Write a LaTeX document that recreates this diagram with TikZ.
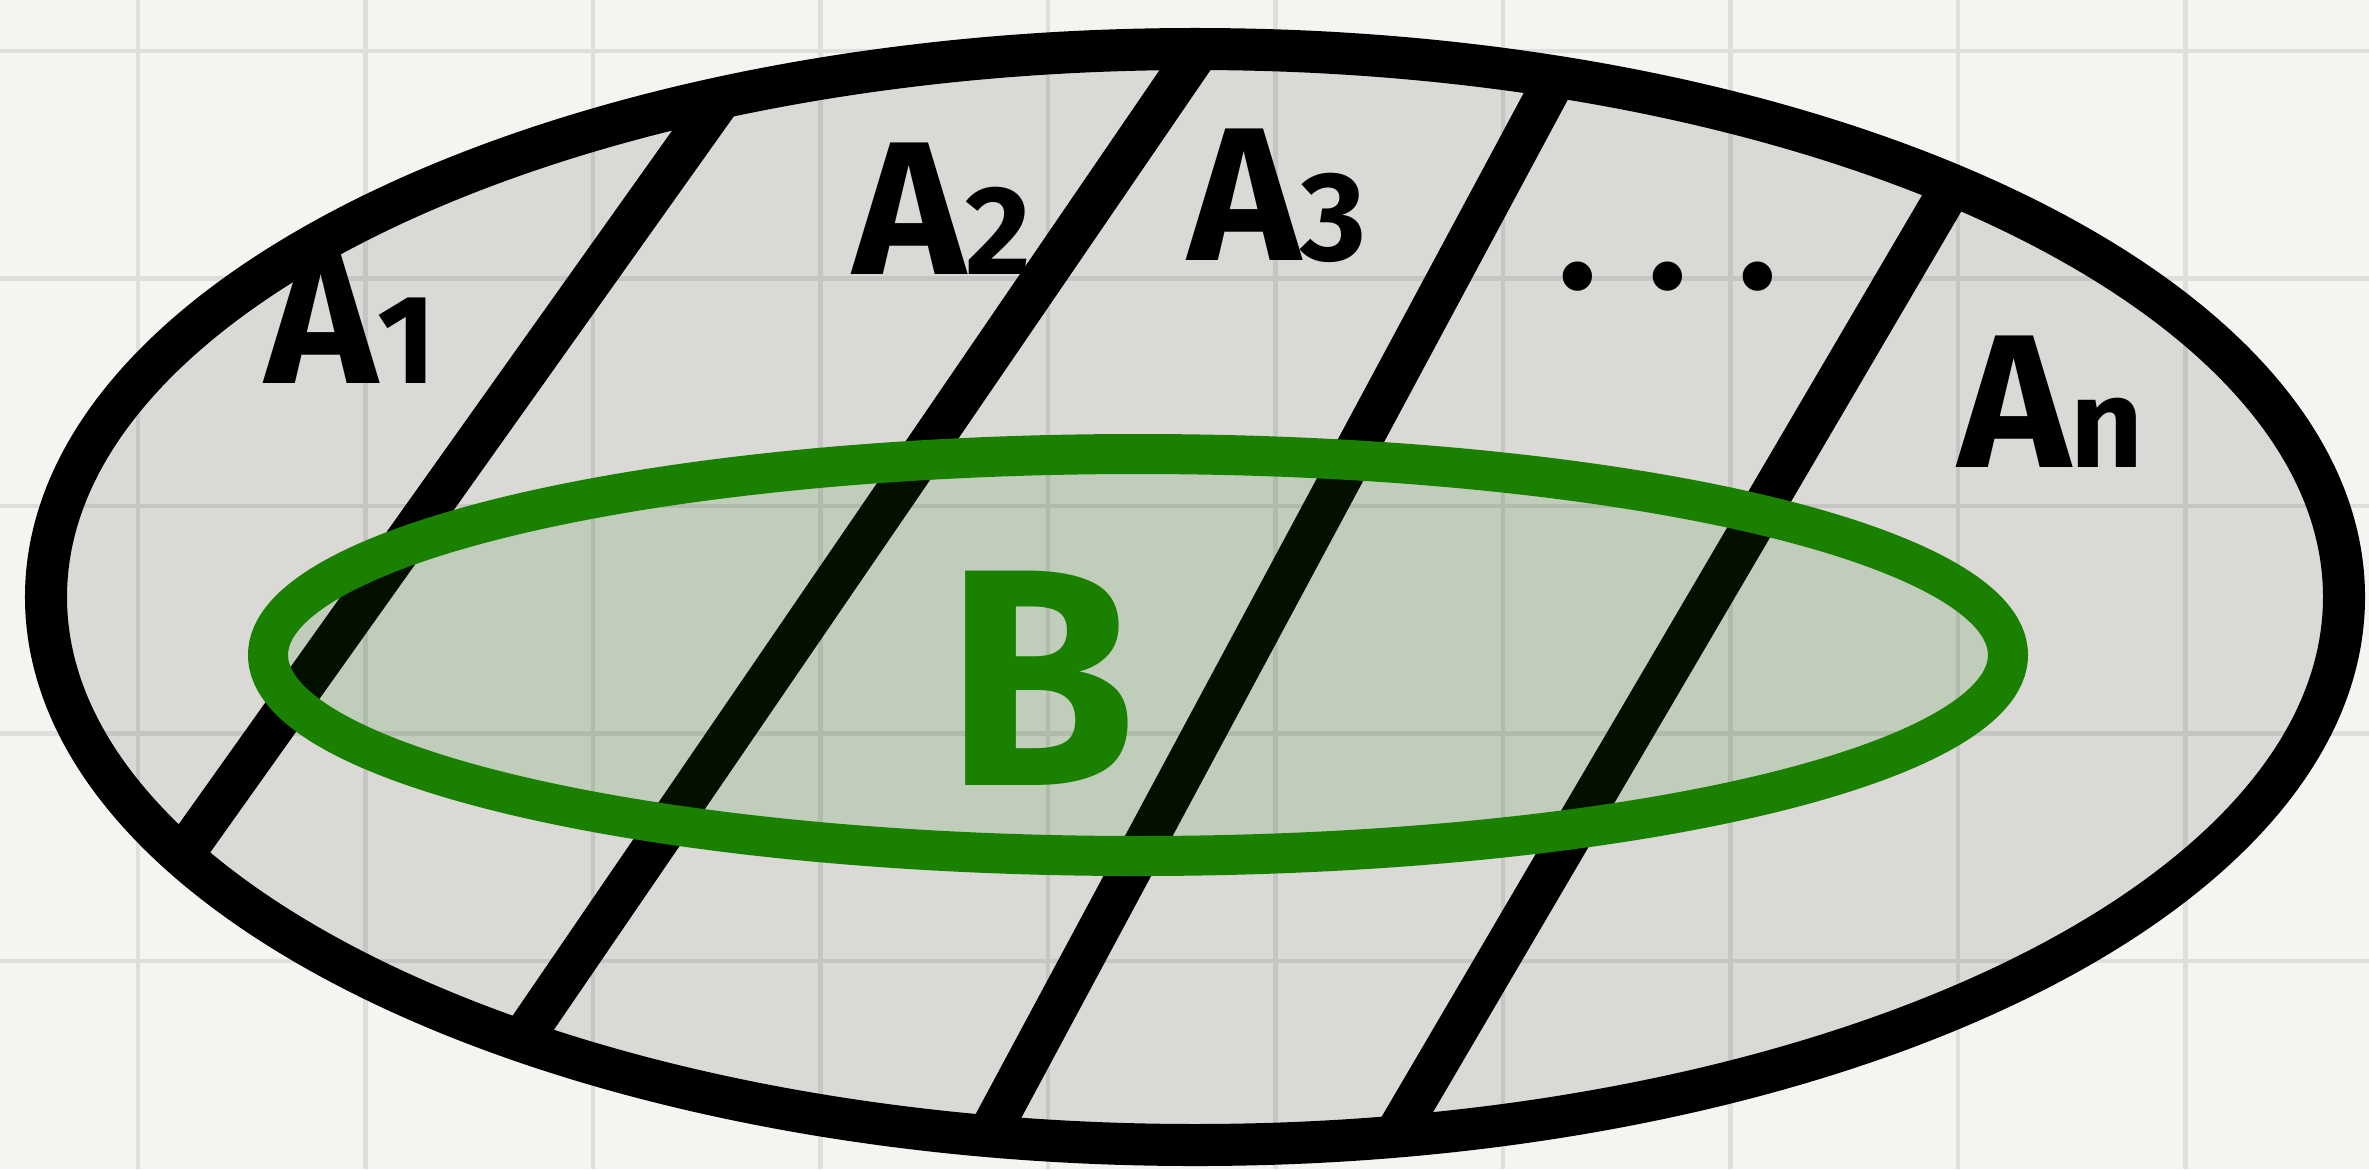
\documentclass[tikz,border=0pt]{standalone}
\usepackage{fontspec}
\setmainfont{Fira Sans}
\usetikzlibrary{positioning}
\definecolor{paperwhite}{RGB}{245,244,241}
\definecolor{gridgray}{RGB}{222,222,220}
\definecolor{pengreen}{RGB}{26,128,0}
\newcommand{\idx}[1]{{\fontsize{36}{36}\selectfont #1}}

\begin{document}
\begin{tikzpicture}[
    x=0.01cm, y=-0.01cm,
    gridline/.style={gridgray, line width=0.045cm},
    outline/.style={line width=0.42cm},
    partline/.style={line width=0.42cm, shorten <=-0.6cm, shorten >=-0.6cm},
    setlabel/.style={anchor=base west, inner sep=0pt, font=\fontsize{54}{54}\selectfont\bfseries},
    blabel/.style={anchor=base west, inner sep=0pt, text=pengreen, font=\fontsize{88}{88}\selectfont\bfseries}
  ]
  \useasboundingbox (0,0) rectangle (2369,1169);
  \fill[paperwhite] (0,0) rectangle (2369,1169);

  % squared paper
  \foreach \i in {0,...,9}
    \draw[gridline] ({138+227.5*\i},0) -- ({138+227.5*\i},1169);
  \foreach \j in {0,...,4}
    \draw[gridline] (0,{51+227.5*\j}) -- (2369,{51+227.5*\j});

  % sample space
  \fill[black, fill opacity=0.11] (1195,597) ellipse [x radius=1149, y radius=548];

  % partition A1 ... An
  \coordinate (p1a) at (704,122);  \coordinate (p1b) at (194,839);
  \coordinate (p2a) at (1183,73);  \coordinate (p2b) at (531,1026);
  \coordinate (p3a) at (1547,94);  \coordinate (p3b) at (999,1115);
  \coordinate (p4a) at (1943,201); \coordinate (p4b) at (1407,1115);
  \begin{scope}
    \clip (1195,597) ellipse [x radius=1149, y radius=548];
    \draw[partline] (p1a) -- (p1b);
    \draw[partline] (p2a) -- (p2b);
    \draw[partline] (p3a) -- (p3b);
    \draw[partline] (p4a) -- (p4b);
  \end{scope}
  \draw[outline] (1195,597) ellipse [x radius=1149, y radius=548];

  % event B
  \draw[outline, line width=0.40cm, draw=pengreen, fill=pengreen, fill opacity=0.125]
    (1138,655) ellipse [x radius=870, y radius=201];

  % labels
  \node[setlabel] (a1) at (265,383) {A\idx{1}};
  \node[setlabel] (a2) at (853,274) {A\idx{2}};
  \node[setlabel] (a3) at (1188,260) {A\idx{3}};
  \node[setlabel, font=\fontsize{46}{46}\selectfont\bfseries] (dots) at (1558,288) {. . .};
  \node[setlabel] (an) at (1958,467) {A\idx{n}};
  \node[blabel] (b) at (945,785) {B};
\end{tikzpicture}
\end{document}
